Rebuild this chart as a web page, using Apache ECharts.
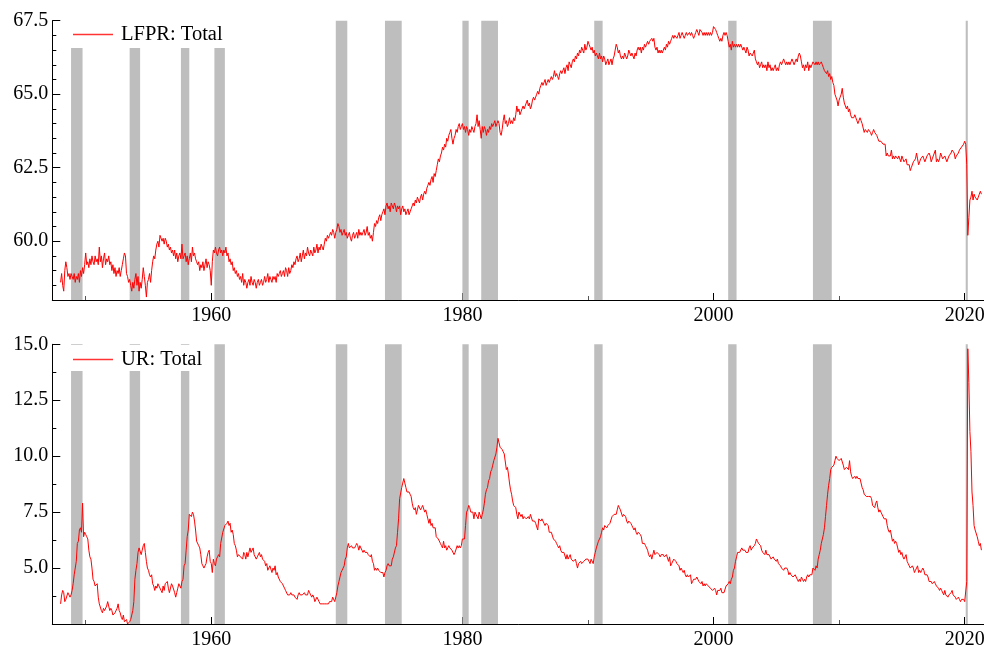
<!DOCTYPE html>
<html>
<head>
<meta charset="utf-8">
<title>LFPR and UR: Total</title>
<script src="https://cdn.jsdelivr.net/npm/echarts@6/dist/echarts.min.js"></script>
<style>
  html, body { margin: 0; padding: 0; background: #ffffff; }
  #chart { width: 984px; height: 645px; }
</style>
</head>
<body>
<div id="chart"></div>
<script>
// Monthly series, seasonally adjusted, starting January 1948.
const startYear = 1948;

// Labor force participation rate, total (%)
const lfprTotal = [
  58.6, 58.9, 58.5, 58.3, 59.0, 59.3, 59.1, 58.8, 58.9, 58.7, 58.9, 58.8, // 1948
  58.7, 58.9, 58.6, 58.8, 58.7, 58.9, 58.6, 59.0, 58.8, 59.1, 58.9, 59.2, // 1949
  59.6, 59.2, 59.3, 59.1, 59.4, 59.2, 59.5, 59.3, 59.2, 59.5, 59.3, 59.4, // 1950
  59.2, 59.8, 59.3, 59.5, 59.1, 59.4, 59.6, 59.2, 59.4, 59.3, 59.5, 59.2, // 1951
  59.3, 59.0, 59.2, 58.9, 59.1, 58.8, 59.0, 58.9, 59.1, 58.8, 59.0, 59.2, // 1952
  59.4, 59.6, 59.5, 58.9, 58.8, 58.6, 58.7, 58.5, 58.3, 58.6, 58.4, 58.7, // 1953
  58.9, 58.5, 58.8, 58.3, 58.6, 58.4, 58.7, 59.1, 58.8, 58.5, 58.1, 58.6, // 1954
  58.7, 58.9, 58.6, 59.0, 59.3, 59.5, 59.4, 59.7, 59.9, 60.0, 59.8, 60.2, // 1955
  60.2, 60.0, 60.1, 59.9, 60.1, 60.0, 59.8, 59.9, 59.7, 59.8, 59.6, 59.7, // 1956
  59.5, 59.7, 59.4, 59.6, 59.3, 59.5, 59.6, 59.4, 59.9, 59.4, 59.5, 59.6, // 1957
  59.3, 59.5, 59.2, 59.4, 59.6, 59.3, 59.8, 59.5, 59.6, 59.4, 59.3, 59.2, // 1958
  59.3, 59.0, 59.2, 59.1, 59.3, 59.0, 59.2, 59.4, 59.1, 59.3, 59.2, 59.0, // 1959
  58.5, 59.3, 59.7, 59.6, 59.8, 59.6, 59.5, 59.7, 59.8, 59.6, 59.7, 59.5, // 1960
  59.7, 59.6, 59.8, 59.5, 59.6, 59.3, 59.4, 59.2, 59.3, 59.0, 59.1, 58.9, // 1961
  59.0, 58.8, 58.9, 58.7, 58.8, 58.6, 58.9, 58.5, 58.7, 58.6, 58.4, 58.6, // 1962
  58.7, 58.5, 58.8, 58.6, 58.5, 58.7, 58.6, 58.4, 58.6, 58.7, 58.5, 58.6, // 1963
  58.7, 58.5, 58.6, 58.8, 58.6, 58.7, 58.9, 58.6, 58.8, 58.7, 58.6, 58.8, // 1964
  58.7, 58.8, 58.6, 58.9, 58.8, 58.9, 59.0, 58.8, 58.9, 59.0, 58.8, 59.1, // 1965
  59.0, 58.8, 59.1, 58.9, 59.0, 59.2, 59.1, 59.3, 59.2, 59.4, 59.5, 59.3, // 1966
  59.4, 59.6, 59.3, 59.5, 59.7, 59.4, 59.6, 59.5, 59.8, 59.6, 59.5, 59.7, // 1967
  59.6, 59.5, 59.8, 59.6, 59.7, 59.9, 59.6, 59.8, 59.7, 59.9, 59.8, 59.7, // 1968
  59.9, 60.1, 60.0, 60.2, 60.1, 60.2, 60.3, 60.2, 60.4, 60.3, 60.1, 60.3, // 1969
  60.4, 60.6, 60.5, 60.3, 60.4, 60.2, 60.3, 60.4, 60.2, 60.3, 60.1, 60.2, // 1970
  60.3, 60.1, 60.0, 60.2, 60.3, 60.1, 60.2, 60.3, 60.1, 60.4, 60.2, 60.3, // 1971
  60.2, 60.3, 60.4, 60.2, 60.3, 60.5, 60.2, 60.3, 60.1, 60.2, 60.0, 60.3, // 1972
  60.6, 60.5, 60.7, 60.6, 60.8, 60.9, 60.7, 60.9, 61.0, 61.1, 60.9, 61.2, // 1973
  61.3, 61.1, 61.2, 61.0, 61.3, 61.2, 61.1, 61.3, 61.2, 61.0, 61.2, 61.1, // 1974
  61.2, 60.9, 61.1, 61.2, 61.0, 61.1, 60.9, 61.0, 61.1, 60.9, 61.0, 61.1, // 1975
  61.2, 61.3, 61.2, 61.4, 61.3, 61.5, 61.4, 61.3, 61.5, 61.6, 61.4, 61.6, // 1976
  61.7, 61.6, 61.8, 61.9, 62.0, 61.9, 62.1, 62.2, 62.0, 62.3, 62.2, 62.4, // 1977
  62.6, 62.8, 62.7, 62.9, 63.0, 63.2, 63.1, 63.3, 63.2, 63.5, 63.4, 63.6, // 1978
  63.7, 63.8, 63.5, 63.3, 63.5, 63.6, 63.8, 63.7, 63.9, 64.0, 63.8, 63.9, // 1979
  64.0, 63.8, 63.9, 63.7, 63.9, 63.8, 63.6, 63.8, 63.7, 63.9, 63.8, 63.7, // 1980
  63.9, 64.0, 64.3, 63.9, 64.1, 63.8, 63.5, 63.9, 63.7, 63.9, 63.8, 63.6, // 1981
  63.8, 63.7, 63.9, 63.8, 64.0, 63.9, 64.0, 64.1, 63.9, 64.0, 64.1, 64.0, // 1982
  63.7, 63.6, 63.8, 64.1, 64.3, 64.0, 64.1, 63.9, 64.0, 64.2, 64.0, 64.1, // 1983
  64.0, 64.2, 64.1, 64.3, 64.6, 64.4, 64.5, 64.3, 64.4, 64.5, 64.6, 64.5, // 1984
  64.6, 64.7, 64.8, 64.6, 64.7, 64.5, 64.6, 64.8, 64.9, 64.8, 64.9, 65.0, // 1985
  65.1, 65.0, 65.2, 65.3, 65.4, 65.3, 65.4, 65.5, 65.3, 65.4, 65.5, 65.4, // 1986
  65.5, 65.6, 65.5, 65.6, 65.8, 65.6, 65.7, 65.6, 65.5, 65.7, 65.8, 65.7, // 1987
  65.8, 65.9, 65.7, 65.9, 66.0, 65.8, 66.1, 66.0, 65.9, 66.1, 66.2, 66.1, // 1988
  66.3, 66.2, 66.4, 66.3, 66.5, 66.4, 66.6, 66.5, 66.4, 66.7, 66.5, 66.6, // 1989
  66.8, 66.7, 66.6, 66.5, 66.6, 66.4, 66.5, 66.3, 66.4, 66.3, 66.2, 66.4, // 1990
  66.2, 66.3, 66.1, 66.3, 66.2, 66.0, 66.1, 66.2, 66.0, 66.1, 66.2, 66.0, // 1991
  66.2, 66.3, 66.5, 66.7, 66.6, 66.4, 66.5, 66.3, 66.2, 66.3, 66.2, 66.4, // 1992
  66.3, 66.2, 66.3, 66.5, 66.4, 66.3, 66.4, 66.3, 66.2, 66.4, 66.3, 66.5, // 1993
  66.6, 66.5, 66.6, 66.4, 66.6, 66.5, 66.7, 66.6, 66.7, 66.8, 66.7, 66.8, // 1994
  66.8, 66.9, 66.8, 66.9, 66.6, 66.5, 66.6, 66.4, 66.5, 66.4, 66.5, 66.4, // 1995
  66.5, 66.6, 66.5, 66.7, 66.6, 66.8, 66.7, 66.8, 66.9, 67.0, 66.9, 67.0, // 1996
  67.0, 66.9, 67.0, 67.1, 66.9, 67.0, 67.1, 67.0, 66.9, 67.0, 67.1, 67.0, // 1997
  67.0, 67.1, 67.0, 67.1, 67.0, 66.9, 67.0, 67.1, 67.2, 67.1, 67.0, 67.2, // 1998
  67.2, 67.1, 67.0, 67.1, 67.0, 67.1, 67.0, 67.1, 67.0, 67.1, 67.0, 67.1, // 1999
  67.3, 67.3, 67.2, 67.1, 67.0, 66.9, 66.8, 66.9, 66.8, 67.0, 67.1, 67.0, // 2000
  67.1, 67.0, 66.8, 66.6, 66.7, 66.5, 66.8, 66.6, 66.7, 66.6, 66.7, 66.6, // 2001
  66.7, 66.6, 66.7, 66.6, 66.5, 66.6, 66.5, 66.4, 66.6, 66.5, 66.3, 66.4, // 2002
  66.4, 66.3, 66.4, 66.5, 66.2, 66.1, 66.0, 66.1, 65.9, 66.0, 66.1, 65.9, // 2003
  66.0, 65.9, 66.0, 65.8, 66.1, 65.9, 66.0, 65.8, 65.9, 65.8, 65.9, 66.0, // 2004
  65.8, 65.9, 65.8, 66.0, 66.1, 66.0, 66.1, 66.2, 66.1, 66.0, 66.1, 66.0, // 2005
  66.1, 66.0, 66.1, 66.2, 66.1, 66.0, 66.1, 66.2, 66.1, 66.3, 66.4, 66.3, // 2006
  66.1, 65.9, 66.0, 65.8, 66.0, 65.9, 66.1, 65.8, 66.0, 65.9, 66.0, 66.1, // 2007
  66.1, 66.0, 66.1, 66.0, 66.1, 66.0, 66.0, 66.1, 66.0, 65.9, 65.8, 65.8, // 2008
  65.7, 65.8, 65.6, 65.7, 65.5, 65.6, 65.4, 65.3, 65.0, 64.9, 64.8, 64.6, // 2009
  64.8, 64.9, 65.0, 65.2, 64.9, 64.7, 64.6, 64.5, 64.6, 64.4, 64.5, 64.3, // 2010
  64.2, 64.2, 64.2, 64.3, 64.2, 64.1, 64.0, 64.1, 64.2, 64.1, 64.0, 64.0, // 2011
  63.7, 63.8, 63.8, 63.7, 63.8, 63.8, 63.7, 63.6, 63.7, 63.8, 63.7, 63.7, // 2012
  63.6, 63.5, 63.4, 63.4, 63.4, 63.4, 63.3, 63.3, 63.3, 62.9, 63.0, 62.9, // 2013
  62.9, 62.9, 63.1, 62.8, 62.9, 62.8, 62.9, 62.9, 62.8, 62.9, 62.9, 62.7, // 2014
  62.9, 62.8, 62.7, 62.7, 62.8, 62.6, 62.6, 62.6, 62.4, 62.5, 62.5, 62.7, // 2015
  62.7, 62.8, 63.0, 62.8, 62.6, 62.7, 62.8, 62.8, 62.9, 62.8, 62.7, 62.7, // 2016
  62.9, 62.9, 63.0, 62.9, 62.7, 62.8, 62.9, 62.9, 63.1, 62.7, 62.8, 62.7, // 2017
  62.8, 63.0, 62.9, 62.8, 62.8, 62.9, 62.9, 62.7, 62.7, 62.9, 62.9, 63.0, // 2018
  63.1, 63.1, 63.0, 62.8, 62.9, 62.9, 63.0, 63.1, 63.1, 63.2, 63.2, 63.3, // 2019
  63.4, 63.3, 62.6, 60.2, 60.8, 61.4, 61.5, 61.7, 61.4, 61.6, 61.5, 61.5, // 2020
  61.4, 61.5, 61.6, 61.7, 61.6                                            // 2021
];

// Unemployment rate, total (%)
const urTotal = [
  3.4, 3.8, 4.0, 3.9, 3.5, 3.6, 3.6, 3.9, 3.8, 3.7, 3.8, 4.0,  // 1948
  4.3, 4.7, 5.0, 5.3, 6.1, 6.2, 6.7, 6.8, 6.6, 7.9, 6.4, 6.6,  // 1949
  6.5, 6.4, 6.3, 5.8, 5.5, 5.4, 5.0, 4.5, 4.4, 4.2, 4.2, 4.3,  // 1950
  3.7, 3.4, 3.4, 3.1, 3.0, 3.2, 3.1, 3.1, 3.3, 3.5, 3.5, 3.1,  // 1951
  3.2, 3.1, 2.9, 2.9, 3.0, 3.0, 3.2, 3.4, 3.1, 3.0, 2.8, 2.7,  // 1952
  2.9, 2.6, 2.6, 2.7, 2.5, 2.5, 2.6, 2.7, 2.9, 3.1, 3.5, 4.5,  // 1953
  4.9, 5.2, 5.7, 5.9, 5.9, 5.6, 5.8, 6.0, 6.1, 5.7, 5.3, 5.0,  // 1954
  4.9, 4.7, 4.6, 4.7, 4.3, 4.2, 4.0, 4.2, 4.1, 4.3, 4.2, 4.2,  // 1955
  4.0, 3.9, 4.2, 4.0, 4.3, 4.3, 4.4, 4.1, 3.9, 3.9, 4.3, 4.2,  // 1956
  4.2, 3.9, 3.7, 3.9, 4.1, 4.3, 4.2, 4.1, 4.4, 4.5, 5.1, 5.2,  // 1957
  5.8, 6.4, 6.7, 7.4, 7.4, 7.3, 7.5, 7.4, 7.1, 6.7, 6.2, 6.2,  // 1958
  6.0, 5.9, 5.6, 5.2, 5.1, 5.0, 5.1, 5.2, 5.5, 5.7, 5.8, 5.3,  // 1959
  5.2, 4.8, 5.4, 5.2, 5.1, 5.4, 5.5, 5.6, 5.5, 6.1, 6.1, 6.6,  // 1960
  6.6, 6.9, 6.9, 7.0, 7.1, 6.9, 7.0, 6.6, 6.7, 6.5, 6.1, 6.0,  // 1961
  5.8, 5.5, 5.6, 5.6, 5.5, 5.5, 5.4, 5.7, 5.6, 5.4, 5.7, 5.5,  // 1962
  5.7, 5.9, 5.7, 5.7, 5.9, 5.6, 5.6, 5.4, 5.5, 5.5, 5.7, 5.5,  // 1963
  5.6, 5.4, 5.4, 5.3, 5.1, 5.2, 4.9, 5.0, 5.1, 5.1, 4.8, 5.0,  // 1964
  4.9, 5.1, 4.7, 4.8, 4.6, 4.6, 4.4, 4.4, 4.3, 4.2, 4.1, 4.0,  // 1965
  4.0, 3.8, 3.8, 3.8, 3.9, 3.8, 3.8, 3.8, 3.7, 3.7, 3.6, 3.8,  // 1966
  3.9, 3.8, 3.8, 3.8, 3.8, 3.9, 3.8, 3.8, 3.8, 4.0, 3.9, 3.8,  // 1967
  3.7, 3.8, 3.7, 3.5, 3.5, 3.7, 3.7, 3.5, 3.4, 3.4, 3.4, 3.4,  // 1968
  3.4, 3.4, 3.4, 3.4, 3.4, 3.5, 3.5, 3.5, 3.7, 3.7, 3.5, 3.5,  // 1969
  3.9, 4.2, 4.4, 4.6, 4.8, 4.9, 5.0, 5.1, 5.4, 5.5, 5.9, 6.1,  // 1970
  5.9, 5.9, 6.0, 5.9, 5.9, 5.9, 6.0, 6.1, 6.0, 5.8, 6.0, 6.0,  // 1971
  5.8, 5.7, 5.8, 5.7, 5.7, 5.7, 5.6, 5.6, 5.5, 5.6, 5.3, 5.2,  // 1972
  4.9, 5.0, 4.9, 5.0, 4.9, 4.9, 4.8, 4.8, 4.8, 4.6, 4.8, 4.9,  // 1973
  5.1, 5.2, 5.1, 5.1, 5.1, 5.4, 5.5, 5.5, 5.9, 6.0, 6.6, 7.2,  // 1974
  8.1, 8.1, 8.6, 8.8, 9.0, 8.8, 8.6, 8.4, 8.4, 8.4, 8.3, 8.2,  // 1975
  7.9, 7.7, 7.6, 7.7, 7.4, 7.6, 7.8, 7.8, 7.6, 7.7, 7.8, 7.8,  // 1976
  7.5, 7.6, 7.4, 7.2, 7.0, 7.2, 6.9, 7.0, 6.8, 6.8, 6.8, 6.4,  // 1977
  6.4, 6.3, 6.3, 6.1, 6.0, 5.9, 6.2, 5.9, 6.0, 5.8, 5.9, 6.0,  // 1978
  5.9, 5.9, 5.8, 5.8, 5.6, 5.7, 5.7, 6.0, 5.9, 6.0, 5.9, 6.0,  // 1979
  6.3, 6.3, 6.3, 6.9, 7.5, 7.6, 7.8, 7.7, 7.5, 7.5, 7.5, 7.2,  // 1980
  7.5, 7.4, 7.4, 7.2, 7.5, 7.5, 7.2, 7.4, 7.6, 7.9, 8.3, 8.5,  // 1981
  8.6, 8.9, 9.0, 9.3, 9.4, 9.6, 9.8, 9.8, 10.1, 10.4, 10.8, 10.8, // 1982
  10.4, 10.4, 10.3, 10.2, 10.1, 10.1, 9.4, 9.5, 9.2, 8.8, 8.5, 8.3, // 1983
  8.0, 7.8, 7.8, 7.7, 7.4, 7.2, 7.5, 7.5, 7.3, 7.4, 7.2, 7.3,  // 1984
  7.3, 7.2, 7.2, 7.3, 7.2, 7.4, 7.4, 7.1, 7.1, 7.1, 7.0, 7.0,  // 1985
  6.7, 7.2, 7.2, 7.1, 7.2, 7.2, 7.0, 6.9, 7.0, 7.0, 6.9, 6.6,  // 1986
  6.6, 6.6, 6.6, 6.3, 6.3, 6.2, 6.1, 6.0, 5.9, 6.0, 5.8, 5.7,  // 1987
  5.7, 5.7, 5.7, 5.4, 5.6, 5.4, 5.4, 5.6, 5.4, 5.4, 5.3, 5.3,  // 1988
  5.4, 5.2, 5.0, 5.2, 5.2, 5.3, 5.2, 5.2, 5.3, 5.3, 5.4, 5.4,  // 1989
  5.4, 5.3, 5.2, 5.4, 5.4, 5.2, 5.5, 5.7, 5.9, 5.9, 6.2, 6.3,  // 1990
  6.4, 6.6, 6.8, 6.7, 6.9, 6.9, 6.8, 6.9, 6.9, 7.0, 7.0, 7.3,  // 1991
  7.3, 7.4, 7.4, 7.4, 7.6, 7.8, 7.7, 7.6, 7.6, 7.3, 7.4, 7.4,  // 1992
  7.3, 7.1, 7.0, 7.1, 7.1, 7.0, 6.9, 6.8, 6.7, 6.8, 6.6, 6.5,  // 1993
  6.6, 6.6, 6.5, 6.4, 6.1, 6.1, 6.1, 6.0, 5.9, 5.8, 5.6, 5.5,  // 1994
  5.6, 5.4, 5.4, 5.8, 5.6, 5.6, 5.7, 5.7, 5.6, 5.5, 5.6, 5.6,  // 1995
  5.6, 5.5, 5.5, 5.6, 5.6, 5.3, 5.5, 5.1, 5.2, 5.2, 5.4, 5.4,  // 1996
  5.3, 5.2, 5.2, 5.1, 4.9, 5.0, 4.9, 4.8, 4.9, 4.7, 4.6, 4.7,  // 1997
  4.6, 4.6, 4.7, 4.3, 4.4, 4.5, 4.5, 4.5, 4.6, 4.5, 4.4, 4.4,  // 1998
  4.3, 4.4, 4.2, 4.3, 4.2, 4.3, 4.3, 4.2, 4.2, 4.1, 4.1, 4.0,  // 1999
  4.0, 4.1, 4.0, 3.8, 4.0, 4.0, 4.0, 4.1, 3.9, 3.9, 3.9, 3.9,  // 2000
  4.2, 4.2, 4.3, 4.4, 4.3, 4.5, 4.6, 4.9, 5.0, 5.3, 5.5, 5.7,  // 2001
  5.7, 5.7, 5.7, 5.9, 5.8, 5.8, 5.8, 5.7, 5.7, 5.7, 5.9, 6.0,  // 2002
  5.8, 5.9, 5.9, 6.0, 6.1, 6.3, 6.2, 6.1, 6.1, 6.0, 5.8, 5.7,  // 2003
  5.7, 5.6, 5.8, 5.6, 5.6, 5.6, 5.5, 5.4, 5.4, 5.5, 5.4, 5.4,  // 2004
  5.3, 5.4, 5.2, 5.2, 5.1, 5.0, 5.0, 4.9, 5.0, 5.0, 5.0, 4.9,  // 2005
  4.7, 4.8, 4.7, 4.7, 4.6, 4.6, 4.7, 4.7, 4.5, 4.4, 4.5, 4.4,  // 2006
  4.6, 4.5, 4.4, 4.5, 4.4, 4.6, 4.7, 4.6, 4.7, 4.7, 4.7, 5.0,  // 2007
  5.0, 4.9, 5.1, 5.0, 5.4, 5.6, 5.8, 6.1, 6.1, 6.5, 6.8, 7.3,  // 2008
  7.8, 8.3, 8.7, 9.0, 9.4, 9.5, 9.5, 9.6, 9.8, 10.0, 9.9, 9.9, // 2009
  9.8, 9.8, 9.9, 9.9, 9.6, 9.4, 9.4, 9.5, 9.5, 9.4, 9.8, 9.3,  // 2010
  9.1, 9.0, 9.0, 9.1, 9.0, 9.1, 9.0, 9.0, 9.0, 8.8, 8.6, 8.5,  // 2011
  8.3, 8.3, 8.2, 8.2, 8.2, 8.2, 8.2, 8.1, 7.8, 7.8, 7.7, 7.9,  // 2012
  8.0, 7.7, 7.5, 7.6, 7.5, 7.5, 7.3, 7.2, 7.2, 7.2, 6.9, 6.7,  // 2013
  6.6, 6.7, 6.7, 6.2, 6.3, 6.1, 6.2, 6.1, 5.9, 5.7, 5.8, 5.6,  // 2014
  5.7, 5.5, 5.4, 5.4, 5.6, 5.3, 5.2, 5.1, 5.0, 5.0, 5.1, 5.0,  // 2015
  4.8, 4.9, 5.0, 5.1, 4.8, 4.9, 4.8, 4.9, 5.0, 4.9, 4.7, 4.7,  // 2016
  4.7, 4.6, 4.4, 4.4, 4.4, 4.3, 4.3, 4.4, 4.3, 4.2, 4.2, 4.1,  // 2017
  4.0, 4.1, 4.0, 4.0, 3.8, 4.0, 3.8, 3.8, 3.7, 3.8, 3.8, 3.9,  // 2018
  4.0, 3.8, 3.8, 3.7, 3.6, 3.6, 3.7, 3.6, 3.5, 3.6, 3.6, 3.6,  // 2019
  3.5, 3.5, 4.4, 14.8, 13.3, 11.1, 10.2, 8.4, 7.8, 6.9, 6.7, 6.7, // 2020
  6.4, 6.2, 6.0, 6.1, 5.8                                      // 2021
];

// NBER recessions, peak month to trough month
const recessions = [
  ["1948-11", "1949-10"], ["1953-07", "1954-05"], ["1957-08", "1958-04"],
  ["1960-04", "1961-02"], ["1969-12", "1970-11"], ["1973-11", "1975-03"],
  ["1980-01", "1980-07"], ["1981-07", "1982-11"], ["1990-07", "1991-03"],
  ["2001-03", "2001-11"], ["2007-12", "2009-06"], ["2020-02", "2020-04"]
];

// Tick positions
const xMajorTicks = [1960, 1980, 2000, 2020];
const xMinorTicks = [1950, 1970, 1990, 2010];
const lfprMajorTicks = [60, 62.5, 65, 67.5];
const lfprMinorTicks = [58.5, 59, 59.5, 60.5, 61, 61.5, 62, 63, 63.5, 64, 64.5, 65.5, 66, 66.5, 67];
const urMajorTicks = [5, 7.5, 10, 12.5, 15];
const urMinorTicks = [3.75, 6.25, 8.75, 11.25, 13.75];

const FONT = '"Liberation Serif", "Times New Roman", serif';
const X_MIN = 1947.34, X_MAX = 2021.54;

const toYear = s => { const [y, m] = s.split('-').map(Number); return y + (m - 1) / 12; };
const monthly = arr => arr.map((v, i) => [startYear + i / 12, v]);
const bandData = recessions.map(([a, b]) => [{ xAxis: toYear(a) }, { xAxis: toYear(b) }]);

function xAxes(gridIndex) {
  return [
    {
      gridIndex, type: 'value', position: 'bottom', min: X_MIN, max: X_MAX,
      axisLine: { show: true, onZero: false, lineStyle: { color: '#000', width: 1 } },
      axisTick: { show: true, inside: true, length: 7, customValues: xMajorTicks, lineStyle: { color: '#000', width: 1 } },
      axisLabel: { show: true, customValues: xMajorTicks, margin: 6, color: '#000', fontFamily: FONT, fontSize: 20, formatter: v => String(Math.round(v)) },
      splitLine: { show: false }
    },
    {
      gridIndex, type: 'value', position: 'bottom', min: X_MIN, max: X_MAX,
      axisLine: { show: false },
      axisTick: { show: true, inside: true, length: 4, customValues: xMinorTicks, lineStyle: { color: '#555', width: 1 } },
      axisLabel: { show: false },
      splitLine: { show: false }
    }
  ];
}

function yAxes(gridIndex, min, max, major, minor) {
  return [
    {
      gridIndex, type: 'value', position: 'left', min, max,
      axisLine: { show: true, onZero: false, lineStyle: { color: '#000', width: 1 } },
      axisTick: { show: true, inside: true, length: 8, customValues: major, lineStyle: { color: '#000', width: 1 } },
      axisLabel: { show: true, customValues: major, margin: 4, color: '#000', fontFamily: FONT, fontSize: 20, formatter: v => v.toFixed(1) },
      splitLine: { show: false }
    },
    {
      gridIndex, type: 'value', position: 'left', min, max,
      axisLine: { show: false },
      axisTick: { show: true, inside: true, length: 4, customValues: minor, lineStyle: { color: '#000', width: 1 } },
      axisLabel: { show: false },
      splitLine: { show: false }
    }
  ];
}

function legend(name, top, padBottom) {
  return {
    data: [{ name, itemStyle: { color: '#ff3333' } }], left: 63, top, orient: 'horizontal',
    backgroundColor: '#ffffff', padding: [4, 6, padBottom, 10],
    icon: 'rect', itemWidth: 40, itemHeight: 1.5, selectedMode: false,
    textStyle: { fontFamily: FONT, fontSize: 20.5, color: '#000', padding: [0, 0, 0, 3] }
  };
}

function shading(xi, yi) {
  return {
    type: 'line', xAxisIndex: xi, yAxisIndex: yi, data: [], z: 1, silent: true,
    markArea: { silent: true, itemStyle: { color: '#bebebe' }, data: bandData }
  };
}

function lineSeries(name, data, xi, yi) {
  return {
    name, type: 'line', xAxisIndex: xi, yAxisIndex: yi, data: monthly(data),
    showSymbol: false, symbol: 'none', z: 3, clip: true,
    lineStyle: { color: '#ff0000', width: 1 }, itemStyle: { color: '#ff0000' }
  };
}

const chart = echarts.init(document.getElementById('chart'), null, { renderer: 'canvas' });
chart.setOption({
  backgroundColor: '#ffffff',
  animation: false,
  grid: [
    { left: 52.3, top: 20.7, width: 931.7, height: 279.3, outerBoundsMode: 'none', containLabel: false },
    { left: 52.3, top: 344.3, width: 931.7, height: 279.7, outerBoundsMode: 'none', containLabel: false }
  ],
  xAxis: [...xAxes(0), ...xAxes(1)],
  yAxis: [
    ...yAxes(0, 58, 67.5, lfprMajorTicks, lfprMinorTicks),
    ...yAxes(1, 2.5, 15, urMajorTicks, urMinorTicks)
  ],
  legend: [legend('LFPR: Total', 20, 3), legend('UR: Total', 345, 1)],
  series: [
    shading(0, 0),
    lineSeries('LFPR: Total', lfprTotal, 0, 0),
    shading(2, 2),
    lineSeries('UR: Total', urTotal, 2, 2)
  ]
});
</script>
</body>
</html>
